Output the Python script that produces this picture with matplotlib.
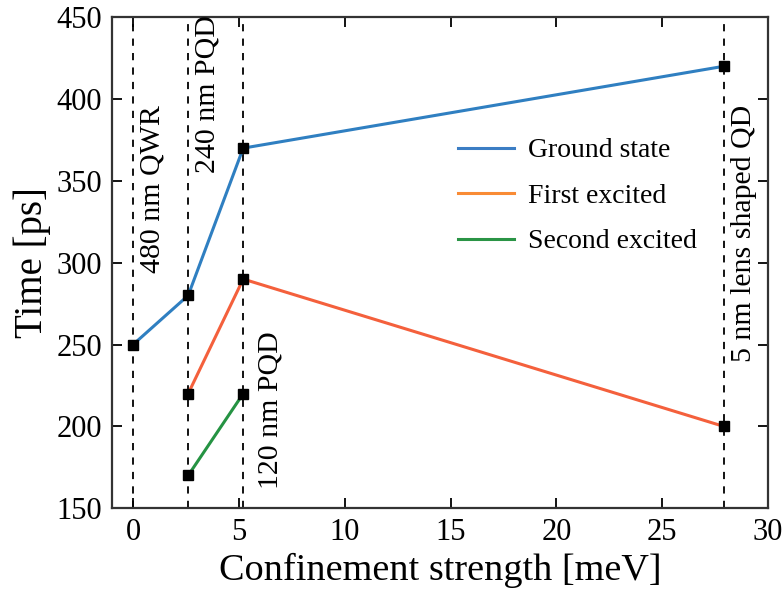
import matplotlib
matplotlib.use("Agg")
import matplotlib.pyplot as plt
from matplotlib.lines import Line2D

plt.rcParams['font.family'] = ['Liberation Serif', 'DejaVu Serif']

# Confinement strength [meV] and times [ps]
x_ground = [0.0, 2.6, 5.2, 27.9]
t_ground = [250, 280, 370, 420]
x_first = [2.6, 5.2, 27.9]
t_first = [220, 290, 200]
x_second = [2.6, 5.2]
t_second = [170, 220]

structures = [0.0, 2.6, 5.2, 27.9]
structure_labels = ["480 nm QWR", "240 nm PQD", "120 nm PQD", "5 nm lens shaped QD"]
label_pos = [(0.9, 345), (3.5, 403), (6.5, 210), (28.85, 318)]

fig = plt.figure(figsize=(7.83, 5.93), dpi=100)
ax = fig.add_axes([0.143, 0.143, 0.838, 0.828])

for xs in structures:
    ax.axvline(xs, color='black', linestyle=(0, (4, 4)), linewidth=1.3, zorder=1)

ax.plot(x_ground, t_ground, color='#2f7fc1', linewidth=2.2, zorder=2)
ax.plot(x_first, t_first, color='#f4603c', linewidth=2.2, zorder=2)
ax.plot(x_second, t_second, color='#259343', linewidth=2.2, zorder=2)
for xs, ts in [(x_ground, t_ground), (x_first, t_first), (x_second, t_second)]:
    ax.plot(xs, ts, linestyle='none', marker='s', markersize=7.5,
            color='black', zorder=3)

for text, (px, py) in zip(structure_labels, label_pos):
    ax.text(px, py, text, rotation=90, ha='center', va='center', fontsize=21.5)

handles = [Line2D([], [], color='#3b7dc4', linewidth=2.2),
           Line2D([], [], color='#f98b35', linewidth=2.2),
           Line2D([], [], color='#2a9446', linewidth=2.2)]
ax.legend(handles, ["Ground state", "First excited", "Second excited"],
          loc='upper left', bbox_to_anchor=(0.49, 0.805), frameon=False,
          fontsize=20, handlelength=2.0, handletextpad=0.5, labelspacing=0.72)

ax.set_xlim(-1, 30)
ax.set_ylim(150, 450)
ax.set_xticks([0, 5, 10, 15, 20, 25, 30])
ax.set_yticks([150, 200, 250, 300, 350, 400, 450])
ax.tick_params(direction='in', top=True, right=True, length=7, width=1.3,
               labelsize=22, pad=7)
for s in ax.spines.values():
    s.set_linewidth(1.6)
    s.set_color('#333333')

ax.set_xlabel("Confinement strength [meV]", fontsize=27.5, labelpad=4)
ax.set_ylabel("Time [ps]", fontsize=28, labelpad=4)

fig.savefig("out.png", dpi=100)
